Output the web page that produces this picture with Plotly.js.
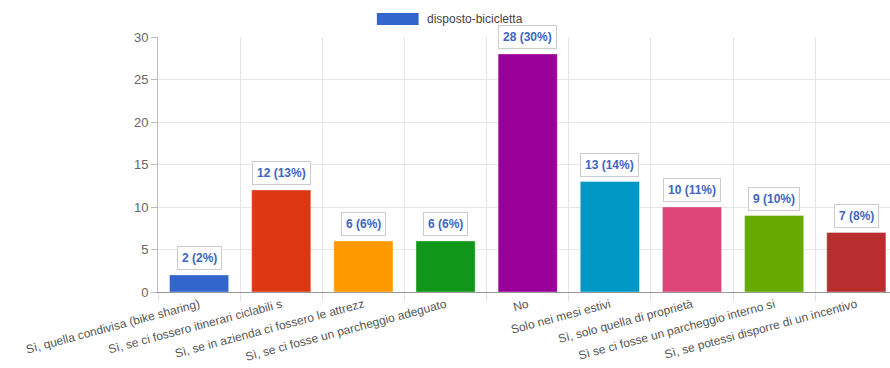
<!DOCTYPE html>
<html><head><meta charset="utf-8">
<script src="https://cdn.plot.ly/plotly-3.0.1.min.js"></script>
<style>html,body{margin:0;padding:0;background:#fff}#chart{width:890px;height:368px}</style>
</head><body><div id="chart"></div>
<script>
const categories = [
  "Sì, quella condivisa (bike sharing)",
  "Sì, se ci fossero itinerari ciclabili s",
  "Sì, se in azienda ci fossero le attrezz",
  "Sì, se ci fosse un parcheggio adeguato",
  "No",
  "Solo nei mesi estivi",
  "Sì, solo quella di proprietà",
  "Sì se ci fosse un parcheggio interno si",
  "Sì, se potessi disporre di un incentivo"
];
const values = [2, 12, 6, 6, 28, 13, 10, 9, 7];
const percents = [2, 13, 6, 6, 30, 14, 11, 10, 8];
const colors = ["#3366cc","#dc3912","#ff9900","#109618","#990099","#0099c6","#dd4477","#66aa00","#b82e2e"];
const seriesName = "disposto-bicicletta";

const labels = values.map((v,i)=> v + " (" + percents[i] + "%)");

const trace = {
  type: "bar",
  x: categories,
  y: values,
  name: seriesName,
  marker: {color: colors, line: {color: "rgba(255,255,255,0.35)", width: 1}},
  width: 0.72,
  showlegend: false,
  hoverinfo: "x+y"
};

const annotations = categories.map((c,i)=>({
  x: c, y: values[i], xref: "x", yref: "y",
  text: "<b>" + labels[i] + "</b>",
  showarrow: false, yanchor: "bottom", yshift: 5,
  font: {family: "Liberation Sans, Arial, sans-serif", size: 12, color: "#3d66c0"},
  bgcolor: "#ffffff", bordercolor: "#cccccc", borderwidth: 1, borderpad: 4
}));
annotations.push({
  xref: "paper", yref: "paper", x: 0.365, y: 1.0, yshift: 18,
  xanchor: "left", yanchor: "middle", showarrow: false,
  text: seriesName,
  font: {family: "Liberation Sans, Arial, sans-serif", size: 12, color: "#444"}
});

const layout = {
  width: 890, height: 368,
  margin: {l: 158, r: 0, t: 37, b: 76},
  paper_bgcolor: "#fff", plot_bgcolor: "#fff",
  font: {family: "Liberation Sans, Arial, sans-serif", color: "#666"},
  xaxis: {
    type: "category",
    range: [-0.5, 8.41],
    tickangle: -15,
    tickson: "boundaries",
    ticks: "outside", ticklen: 8, tickcolor: "#e0e0e0",
    showgrid: true, gridcolor: "#e6e6e6",
    showline: true, linecolor: "#999", linewidth: 1,
    tickfont: {size: 12, color: "#555"},
    automargin: false
  },
  yaxis: {
    range: [0, 30],
    dtick: 5,
    ticks: "outside", ticklen: 6, tickcolor: "#bbb",
    showgrid: true, gridcolor: "#e6e6e6",
    showline: true, linecolor: "#bbb", linewidth: 1,
    zeroline: false,
    tickfont: {size: 13, color: "#666"},
    automargin: false
  },
  shapes: [{
    type: "rect", xref: "paper", yref: "paper",
    x0: 0.299, x1: 0.356, y0: 1.0, y1: 1.0,
    ysizemode: "pixel", yanchor: 1.0, y0: 12, y1: 24,
    fillcolor: "#3366cc", line: {width: 0}
  }],
  annotations: annotations,
  showlegend: false
};

Plotly.newPlot("chart", [trace], layout, {displayModeBar: false, responsive: false});
</script></body></html>
